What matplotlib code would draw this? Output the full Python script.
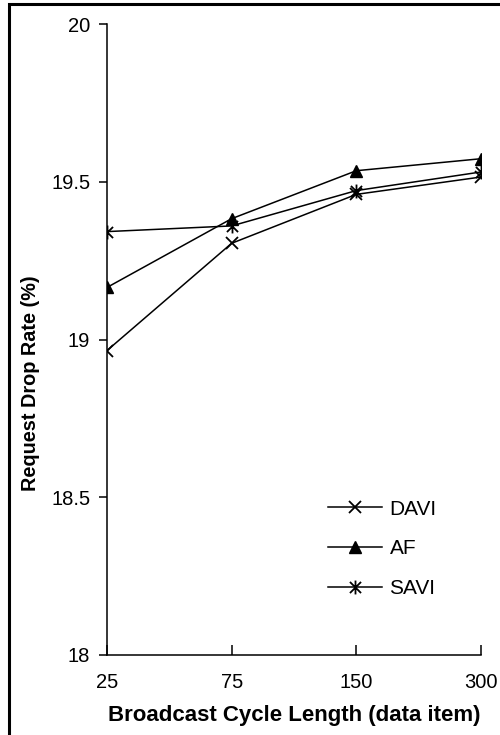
import numpy as np
import matplotlib
matplotlib.use("Agg")
import matplotlib.pyplot as plt
from matplotlib.path import Path
from matplotlib.patches import Rectangle

# ---- data ----
cycle_lengths = ["25", "75", "150", "300"]
davi = [18.965, 19.305, 19.46, 19.515]
af = [19.165, 19.383, 19.535, 19.573]
savi = [19.342, 19.36, 19.472, 19.531]
y_ticks = [18, 18.5, 19, 19.5, 20]
y_ticklabels = ["18", "18.5", "19", "19.5", "20"]

plt.rcParams["font.family"] = ["Liberation Sans", "DejaVu Sans"]

# Excel-style star marker: an x with a vertical bar
star = Path(
    [(-1, -1), (1, 1), (-1, 1), (1, -1), (0, -1.25), (0, 1.25)],
    [Path.MOVETO, Path.LINETO, Path.MOVETO, Path.LINETO, Path.MOVETO, Path.LINETO],
)

fig = plt.figure(figsize=(5, 7.35), dpi=100)
ax = fig.add_axes([107 / 500, 1 - 655 / 735, 374 / 500, 631 / 735])

x = np.arange(len(cycle_lengths))
lw = 1.1
ax.plot(x, davi, color="black", lw=lw, marker="x", ms=8.5, mew=1.3, label="DAVI")
ax.plot(x, af, color="black", lw=lw, marker="^", ms=8.5, label="AF")
ax.plot(x, savi, color="black", lw=lw, marker=star, ms=10, mew=1.3, label="SAVI")

ax.set_xlim(0, len(cycle_lengths) - 1)
ax.set_ylim(18, 20)
ax.set_xticks(x)
ax.set_xticklabels(cycle_lengths)
ax.set_yticks(y_ticks)
ax.set_yticklabels(y_ticklabels)

ax.spines["top"].set_visible(False)
ax.spines["right"].set_visible(False)
for s in ("left", "bottom"):
    ax.spines[s].set_linewidth(1.1)
ax.tick_params(axis="x", direction="in", length=7, width=1.1, labelsize=14.5, pad=13)
ax.tick_params(axis="y", direction="out", length=6, width=1.1, labelsize=14.5, pad=6)

ax.set_xlabel("Broadcast Cycle Length (data item)", fontsize=16, fontweight="bold", labelpad=9)
ax.set_ylabel("Request Drop Rate (%)", fontsize=14.3, fontweight="bold")
ax.yaxis.set_label_coords(-0.178, 0.43)

fig.legend(
    loc="center left", bbox_to_anchor=(328 / 500, 1 - 549 / 735),
    frameon=False, fontsize=15, handlelength=2.6, handletextpad=0.35,
    labelspacing=1.0, borderpad=0, borderaxespad=0,
)

# outer frame (runs off the right and bottom edges)
fig.patches.append(Rectangle((9 / 500, -0.05), 1.1, 1.05 - 4 / 735,
                             transform=fig.transFigure, fill=False,
                             ec="black", lw=2.2))

fig.savefig("out.png", dpi=100)
